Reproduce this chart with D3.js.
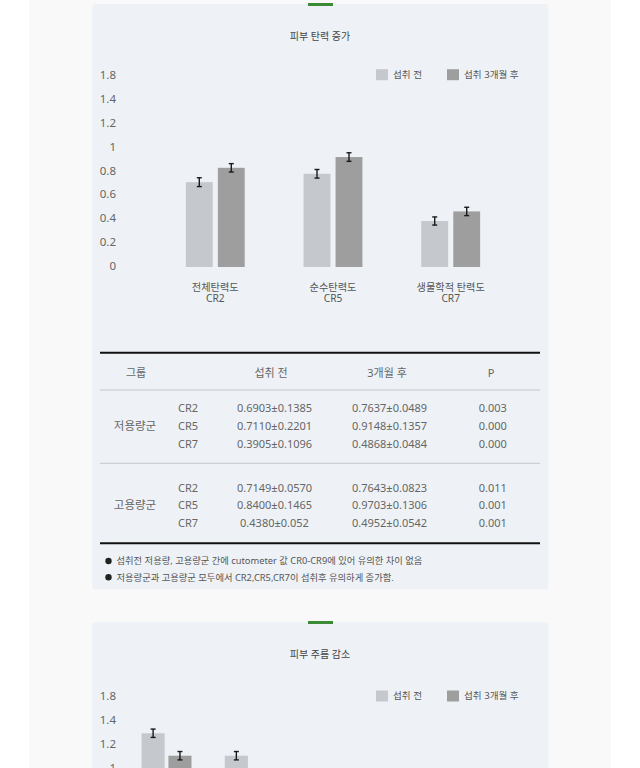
<!DOCTYPE html>
<html>
<head>
<meta charset="utf-8">
<script src="https://cdn.jsdelivr.net/npm/d3@7"></script>
<style>
  html, body { margin: 0; padding: 0; background: #fff; }
  svg { display: block; font-family: "Noto Sans", "Noto Sans CJK KR", sans-serif; }
</style>
</head>
<body>
<div id="chart"></div>
<script>
// ---- data ----
const seriesNames = ["섭취 전", "섭취 3개월 후"];
const seriesColors = ["#c5c8cc", "#9e9e9e"];

// y tick labels as printed (the 1.6 row is printed as "1.8" in the source)
const tickValues = [0, 0.2, 0.4, 0.6, 0.8, 1, 1.2, 1.4, 1.6];
const tickLabels = ["0", "0.2", "0.4", "0.6", "0.8", "1", "1.2", "1.4", "1.8"];

// chart 1: 피부 탄력 증가
const elasticNames = ["전체탄력도", "순수탄력도", "생물학적 탄력도"];
const elasticCodes = ["CR2", "CR5", "CR7"];
const elasticBefore = [0.71, 0.78, 0.385];
const elasticAfter = [0.83, 0.92, 0.465];
const elasticErrBefore = [0.037, 0.036, 0.034];
const elasticErrAfter = [0.035, 0.036, 0.035];

// chart 2: 피부 주름 감소 (only the top of it is in view)
const wrinkleCodes = ["R1", "R2", "R3", "R4", "R5"];
const wrinkleBefore = [1.295, 1.107, null, null, null];
const wrinkleAfter = [1.107, null, null, null, null];
const wrinkleErrBefore = [0.035, 0.035, null, null, null];
const wrinkleErrAfter = [0.035, null, null, null, null];

// table
const tableHeader = ["그룹", "섭취 전", "3개월 후", "P"];
const tableGroups = ["저용량군", "고용량군"];
const tableCodes = ["CR2", "CR5", "CR7"];
const lowBefore = ["0.6903±0.1385", "0.7110±0.2201", "0.3905±0.1096"];
const lowAfter = ["0.7637±0.0489", "0.9148±0.1357", "0.4868±0.0484"];
const lowP = ["0.003", "0.000", "0.000"];
const highBefore = ["0.7149±0.0570", "0.8400±0.1465", "0.4380±0.052"];
const highAfter = ["0.7643±0.0823", "0.9703±0.1306", "0.4952±0.0542"];
const highP = ["0.011", "0.001", "0.001"];
const notes = [
  "섭취전 저용량, 고용량군 간에 cutometer 값 CR0-CR9에 있어 유의한 차이 없음",
  "저용량군과 고용량군 모두에서 CR2,CR5,CR7이 섭취후 유의하게 증가함."
];

// ---- page ----
const W = 640, H = 768;
const svg = d3.select("#chart").append("svg")
  .attr("width", W).attr("height", H);

svg.append("rect").attr("width", W).attr("height", H).attr("fill", "#ffffff");
svg.append("rect").attr("x", 29).attr("y", 0).attr("width", 582).attr("height", H)
  .attr("fill", "#f9f9fa");

function panel(top, bottom) {
  svg.append("rect")
    .attr("x", 92).attr("y", top).attr("width", 456.5).attr("height", bottom - top)
    .attr("rx", 4).attr("fill", "#eef2f6");
  svg.append("rect")
    .attr("x", 308).attr("y", top - 1).attr("width", 25).attr("height", 3)
    .attr("fill", "#3b8a35");
}

function barChart(opt) {
  const g = svg.append("g");

  g.append("text")
    .attr("x", 320).attr("y", opt.titleY).attr("dy", "0.35em")
    .attr("text-anchor", "middle").attr("font-size", "10px").attr("fill", "#444")
    .text(opt.title);

  const y = d3.scaleLinear().domain([0, 1.6]).range([opt.y0, opt.y0 - 191.2]);
  const x0 = d3.scaleBand().domain(opt.codes).range([127, 539])
    .paddingInner(opt.padInner).paddingOuter(opt.padOuter);
  const x1 = d3.scaleBand().domain([0, 1]).range([0, x0.bandwidth()]).paddingInner(opt.barGap);

  // y axis: labels only
  const yAxis = d3.axisLeft(y).tickValues(tickValues)
    .tickFormat((d, i) => tickLabels[i]).tickSize(0).tickPadding(0);
  const ax = g.append("g").attr("transform", "translate(116,-1)").call(yAxis);
  ax.select(".domain").remove();
  ax.selectAll("text").attr("font-size", "11.5px").attr("fill", "#666")
    .attr("font-family", "\"Noto Sans\", sans-serif");

  const values = [opt.before, opt.after];
  const errs = [opt.errBefore, opt.errAfter];
  const rows = [];
  opt.codes.forEach((c, i) => {
    [0, 1].forEach(s => {
      if (values[s][i] != null) rows.push({ c, s, v: values[s][i], e: errs[s][i] });
    });
  });

  g.append("g").selectAll("rect").data(rows).join("rect")
    .attr("x", d => x0(d.c) + x1(d.s))
    .attr("y", d => y(d.v))
    .attr("width", x1.bandwidth())
    .attr("height", d => y(0) - y(d.v))
    .attr("fill", d => seriesColors[d.s]);

  const eb = g.append("g").attr("stroke", "#1a1a1a").attr("stroke-width", 1.4)
    .selectAll("g").data(rows).join("g")
    .attr("transform", d => `translate(${x0(d.c) + x1(d.s) + x1.bandwidth() / 2},0)`);
  eb.append("line").attr("x1", 0).attr("x2", 0)
    .attr("y1", d => y(d.v + d.e)).attr("y2", d => y(d.v - d.e));
  eb.append("line").attr("x1", -2.5).attr("x2", 2.5)
    .attr("y1", d => y(d.v + d.e)).attr("y2", d => y(d.v + d.e));
  eb.append("line").attr("x1", -2.5).attr("x2", 2.5)
    .attr("y1", d => y(d.v - d.e)).attr("y2", d => y(d.v - d.e));

  // category labels, two lines each
  if (opt.names) {
    const cx = d => x0(d) + x0.bandwidth() / 2;
    g.append("g").selectAll("text").data(opt.codes).join("text")
      .attr("x", cx).attr("y", opt.y0 + 20).attr("dy", "0.35em")
      .attr("text-anchor", "middle").attr("font-size", "10.2px").attr("fill", "#555")
      .text((d, i) => opt.names[i]);
    g.append("g").selectAll("text").data(opt.codes).join("text")
      .attr("x", cx).attr("y", opt.y0 + 31.6).attr("dy", "0.35em")
      .attr("text-anchor", "middle").attr("font-size", "10.2px").attr("fill", "#555")
      .text(d => d);
  }

  // legend
  const lx = [376, 447];
  const leg = g.append("g").selectAll("g").data(seriesNames).join("g")
    .attr("transform", (d, i) => `translate(${lx[i]},${opt.legendY})`);
  leg.append("rect").attr("x", 0).attr("y", -5.5).attr("width", 12).attr("height", 11)
    .attr("fill", (d, i) => seriesColors[i]);
  leg.append("text").attr("x", 17).attr("dy", "0.35em")
    .attr("font-size", "9.6px").attr("fill", "#555").text(d => d);
}

// ---- panel 1 ----
panel(4, 589.5);
barChart({
  title: "피부 탄력 증가", titleY: 36.7, legendY: 74.7, y0: 267,
  codes: elasticCodes, names: elasticNames,
  before: elasticBefore, after: elasticAfter,
  errBefore: elasticErrBefore, errAfter: elasticErrAfter,
  padInner: 0.5, padOuter: 0.5, barGap: 0.16
});

// ---- table ----
const t = svg.append("g").attr("font-size", "11px").attr("fill", "#666");
const lineX = [100, 540];
function hline(yy, w, c) {
  t.append("line").attr("x1", lineX[0]).attr("x2", lineX[1])
    .attr("y1", yy).attr("y2", yy).attr("stroke", c).attr("stroke-width", w);
}
hline(352.7, 2, "#111");
hline(390, 0.8, "#b8bcc2");
hline(463.3, 0.8, "#b8bcc2");
hline(543.3, 2, "#111");

const headX = [136, 271, 387, 491];
t.selectAll(".head").data(tableHeader).join("text").attr("class", "head")
  .attr("x", (d, i) => headX[i]).attr("y", 373.3).attr("dy", "0.35em")
  .attr("text-anchor", "middle").attr("fill", "#666").text(d => d);

const valX = [274.5, 389.5, 492.8];
const groupRowsY = [[408.3, 426, 443.7], [487.7, 505.3, 523]];
const groupCols = [[lowBefore, lowAfter, lowP], [highBefore, highAfter, highP]];
tableGroups.forEach((grp, gi) => {
  const ys = groupRowsY[gi];
  t.append("text").attr("x", 135).attr("y", ys[1]).attr("dy", "0.35em")
    .attr("text-anchor", "middle").attr("font-size", "11.5px").text(grp);
  t.append("g").selectAll("text").data(tableCodes).join("text")
    .attr("x", 178).attr("y", (d, i) => ys[i]).attr("dy", "0.35em").text(d => d);
  groupCols[gi].forEach((col, ci) => {
    t.append("g").selectAll("text").data(col).join("text")
      .attr("x", valX[ci]).attr("y", (d, i) => ys[i]).attr("dy", "0.35em")
      .attr("text-anchor", "middle").text(d => d);
  });
});

const nt = svg.append("g").selectAll("g").data(notes).join("g")
  .attr("transform", (d, i) => `translate(105,${561 + i * 16.3})`);
nt.append("circle").attr("cx", 3.5).attr("cy", 0).attr("r", 3.2).attr("fill", "#222");
nt.append("text").attr("x", 11.5).attr("dy", "0.35em")
  .attr("font-size", "9.3px").attr("fill", "#555").text(d => d);

// ---- panel 2 ----
panel(622, 800);
barChart({
  title: "피부 주름 감소", titleY: 654, legendY: 696, y0: 888,
  codes: wrinkleCodes, names: null,
  before: wrinkleBefore, after: wrinkleAfter,
  errBefore: wrinkleErrBefore, errAfter: wrinkleErrAfter,
  padInner: 0.4, padOuter: 0.175, barGap: 0.14
});
</script>
</body>
</html>
